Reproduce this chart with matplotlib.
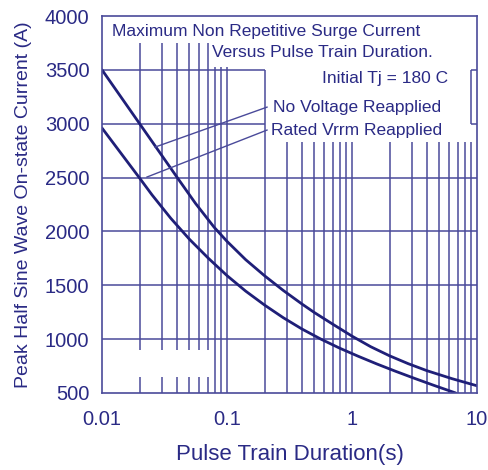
import numpy as np
import matplotlib.pyplot as plt
from matplotlib.ticker import FixedLocator, NullLocator, FixedFormatter

plt.rcParams['font.family'] = ['Liberation Sans', 'DejaVu Sans']

# surge current curves, duration (s) vs peak current (A)
t_no_volt = [0.01, 0.02, 0.04, 0.056, 0.079, 0.1, 0.141, 0.2, 0.282, 0.398,
             0.5, 0.708, 1.0, 1.41, 2.0, 2.82, 3.98, 6.31, 10.0]
i_no_volt = [3500, 3000, 2500, 2260, 2038, 1908, 1738, 1588, 1452, 1326,
             1247, 1136, 1028, 930, 845, 772, 707, 633, 567]

t_rated = [0.01, 0.02, 0.0251, 0.0355, 0.0501, 0.0708, 0.1, 0.141, 0.2, 0.282,
           0.398, 0.562, 0.794, 1.122, 1.585, 2.239, 3.162, 4.467, 6.31, 6.76]
i_rated = [2960, 2495, 2340, 2122, 1927, 1752, 1590, 1446, 1316, 1199,
           1094, 1001, 917, 841, 769, 701, 636, 573, 512, 500]

x_ticks = [0.01, 0.1, 1, 10]
x_tick_labels = ['0.01', '0.1', '1', '10']
y_ticks = [500, 1000, 1500, 2000, 2500, 3000, 3500, 4000]

NAVY = '#1f1f78'
GRID = '#4a4a9a'
TEXT = '#2a2a85'

fig = plt.figure(figsize=(4.89, 4.70), dpi=100)
ax = fig.add_axes([102 / 489, 1 - 393 / 470, 375 / 489, 377 / 470])
ax.set_xscale('log')
ax.set_xlim(0.01, 10)
ax.set_ylim(500, 4000)

# vertical grid, some lines are cut short by the text block
minor_lo = [0.02, 0.03, 0.04, 0.05, 0.06, 0.07]
ax.vlines(minor_lo, 500, 648, color=GRID, lw=1.1)
ax.vlines(minor_lo, 899, 3747, color=GRID, lw=1.1)
ax.vlines([0.08, 0.09, 0.1], 500, 3530, color=GRID, lw=1.1)
ax.vlines([0.2], 500, 3500, color=GRID, lw=1.1)
minor_hi = [0.3, 0.4, 0.5, 0.6, 0.7, 0.8, 0.9, 1, 2, 3, 4, 5, 6, 7, 8, 9]
ax.vlines(minor_hi, 500, 2830, color=GRID, lw=1.1)
ax.vlines([9], 3000, 3500, color=GRID, lw=1.1)

# horizontal grid
ax.hlines([1000, 1500, 2000, 2500], 0.01, 10, color=GRID, lw=1.1)
ax.hlines([3000, 3500], 0.01, 0.2, color=GRID, lw=1.1)
ax.hlines([3000, 3500], 9, 10, color=GRID, lw=1.1)

ax.plot(t_no_volt, i_no_volt, color=NAVY, lw=2.0, solid_capstyle='round')
ax.plot(t_rated, i_rated, color=NAVY, lw=2.0, solid_capstyle='round')

# leader lines to the curve labels
ax.plot([0.0266, 0.209], [2783, 3154], color=GRID, lw=1.0)
ax.plot([0.0229, 0.209], [2505, 2941], color=GRID, lw=1.0)

for s in ax.spines.values():
    s.set_color(GRID)
    s.set_linewidth(1.2)

ax.xaxis.set_major_locator(FixedLocator(x_ticks))
ax.xaxis.set_major_formatter(FixedFormatter(x_tick_labels))
ax.xaxis.set_minor_locator(NullLocator())
ax.set_yticks(y_ticks)
ax.tick_params(length=0, labelsize=14.5, labelcolor=TEXT)
ax.tick_params(axis='y', pad=9)
ax.tick_params(axis='x', pad=12)

ax.set_xlabel('Pulse Train Duration(s)', fontsize=16, color=TEXT, labelpad=11)
ax.set_ylabel('Peak Half Sine Wave On-state Current (A)', fontsize=14,
              color=TEXT, labelpad=9)

tr = ax.transAxes
fs = 12.5
ax.text(0.0267, 0.9576, 'Maximum Non Repetitive Surge Current', transform=tr,
        fontsize=fs, color=TEXT, ha='left', va='center')
ax.text(0.8827, 0.9019, 'Versus Pulse Train Duration.', transform=tr,
        fontsize=fs, color=TEXT, ha='right', va='center')
ax.text(0.9227, 0.8355, 'Initial Tj = 180 C', transform=tr,
        fontsize=fs, color=TEXT, ha='right', va='center')
ax.text(0.456, 0.7586, 'No Voltage Reapplied', transform=tr,
        fontsize=fs, color=TEXT, ha='left', va='center')
ax.text(0.4507, 0.6976, 'Rated Vrrm Reapplied', transform=tr,
        fontsize=fs, color=TEXT, ha='left', va='center')

fig.savefig('out.png', dpi=100)
